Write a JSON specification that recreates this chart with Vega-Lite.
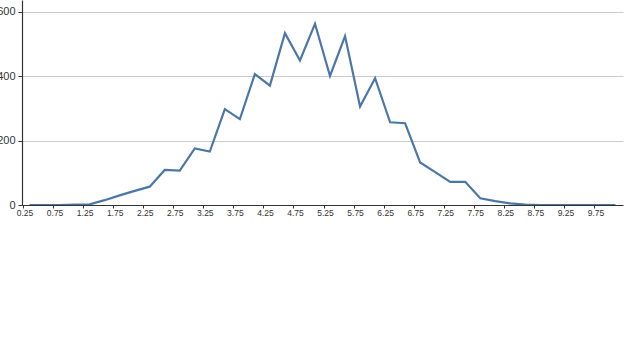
{
  "$schema": "https://vega.github.io/schema/vega-lite/v6.json",
  "width": 601,
  "height": 205,
  "autosize": {"type": "none"},
  "padding": {"left": 22, "top": 0, "right": 17, "bottom": 155},
  "background": "white",
  "config": {
    "view": {"stroke": null},
    "font": "Liberation Sans"
  },
  "data": {
    "values": [
      {"x": 0.25, "count": 0}, {"x": 0.5, "count": 0}, {"x": 0.75, "count": 0}, {"x": 1.0, "count": 1},
      {"x": 1.25, "count": 2}, {"x": 1.5, "count": 15}, {"x": 1.75, "count": 30}, {"x": 2.0, "count": 44},
      {"x": 2.25, "count": 57}, {"x": 2.5, "count": 109}, {"x": 2.75, "count": 107}, {"x": 3.0, "count": 176},
      {"x": 3.25, "count": 166}, {"x": 3.5, "count": 298}, {"x": 3.75, "count": 267}, {"x": 4.0, "count": 407},
      {"x": 4.25, "count": 371}, {"x": 4.5, "count": 534}, {"x": 4.75, "count": 449}, {"x": 5.0, "count": 563},
      {"x": 5.25, "count": 401}, {"x": 5.5, "count": 525}, {"x": 5.75, "count": 306}, {"x": 6.0, "count": 394},
      {"x": 6.25, "count": 257}, {"x": 6.5, "count": 254}, {"x": 6.75, "count": 132}, {"x": 7.0, "count": 102},
      {"x": 7.25, "count": 72}, {"x": 7.5, "count": 72}, {"x": 7.75, "count": 21}, {"x": 8.0, "count": 12},
      {"x": 8.25, "count": 5}, {"x": 8.5, "count": 1}, {"x": 8.75, "count": 0}, {"x": 9.0, "count": 0},
      {"x": 9.25, "count": 0}, {"x": 9.5, "count": 0}, {"x": 9.75, "count": 0}, {"x": 10.0, "count": 0}
    ]
  },
  "mark": {"type": "line", "color": "#4a77a8", "strokeWidth": 2.2, "clip": true},
  "encoding": {
    "x": {
      "field": "x",
      "type": "quantitative",
      "scale": {"domain": [0.125, 10.125], "nice": false, "zero": false},
      "axis": {
        "title": null,
        "values": [0.25, 0.75, 1.25, 1.75, 2.25, 2.75, 3.25, 3.75, 4.25, 4.75, 5.25, 5.75, 6.25, 6.75, 7.25, 7.75, 8.25, 8.75, 9.25, 9.75],
        "format": ".2f",
        "grid": false,
        "domainColor": "#333333",
        "domainWidth": 1.2,
        "tickColor": "#333333",
        "tickSize": 3,
        "tickOffset": -6.5,
        "labelFontSize": 8.5,
        "labelColor": "#333333",
        "labelPadding": 0,
        "labelOffset": 1.5,
        "labelFlush": false
      }
    },
    "y": {
      "field": "count",
      "type": "quantitative",
      "scale": {"domain": [0, 637], "nice": false},
      "axis": {
        "title": null,
        "values": [0, 200, 400, 600],
        "grid": true,
        "gridColor": "#cccccc",
        "gridWidth": 1,
        "domainColor": "#333333",
        "domainWidth": 1.2,
        "tickColor": "#333333",
        "tickSize": 4,
        "labelFontSize": 11,
        "labelColor": "#333333",
        "labelPadding": 3
      }
    }
  }
}
